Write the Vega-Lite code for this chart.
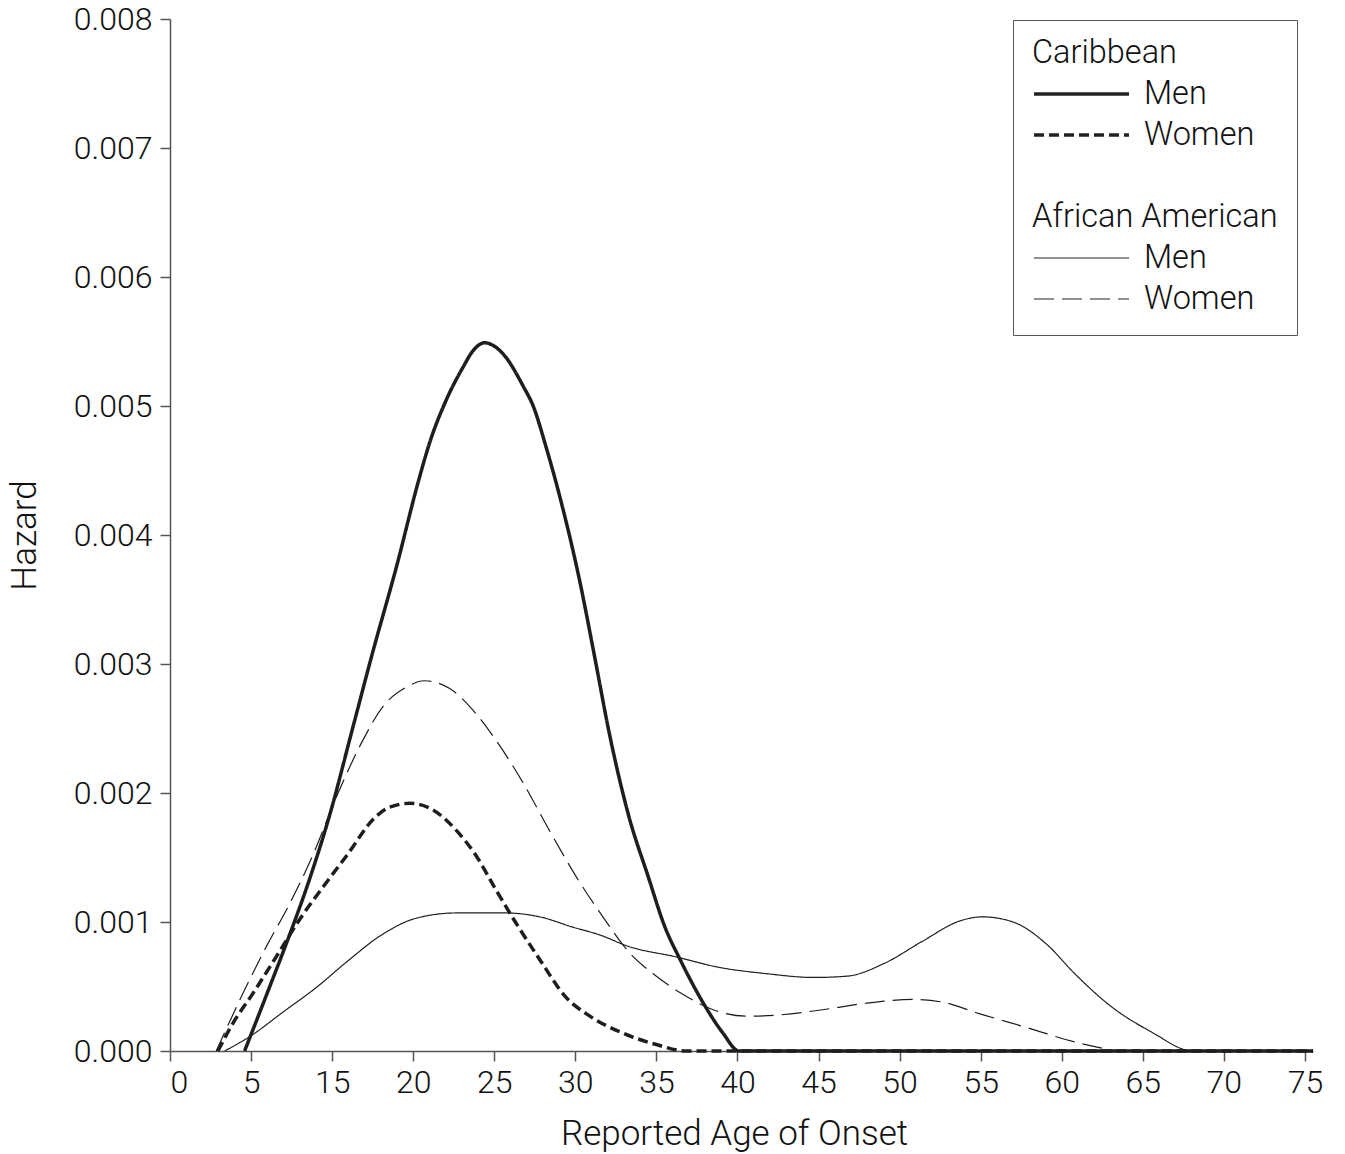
{
  "$schema": "https://vega.github.io/schema/vega-lite/v6.json",
  "width": 1143,
  "height": 1032,
  "autosize": {"type": "none"},
  "padding": {"left": 170, "top": 19, "right": 32, "bottom": 103},
  "background": "white",
  "config": {
    "view": {"stroke": null},
    "font": "Roboto",
    "axis": {
      "grid": false,
      "domainColor": "#555",
      "domainWidth": 1.5,
      "tickColor": "#555",
      "tickWidth": 1.5,
      "tickSize": 10,
      "labelFont": "Roboto",
      "labelFontSize": 32,
      "labelFontWeight": 300,
      "labelColor": "#111",
      "titleFont": "Roboto",
      "titleFontSize": 35,
      "titleFontWeight": 300,
      "titleColor": "#111"
    },
    "legend": {
      "strokeColor": "#555",
      "fillColor": "white",
      "padding": 19,
      "labelFont": "Roboto",
      "labelFontSize": 32.5,
      "labelFontWeight": 300,
      "labelColor": "#111",
      "labelOffset": 13,
      "labelLimit": 400,
      "symbolSize": 9025,
      "symbolType": "stroke",
      "symbolStrokeColor": "#222",
      "clipHeight": 28,
      "rowPadding": 8
    }
  },
  "data": {
    "values": [
      {"series": "Caribbean Men", "age": 4.6, "hazard": 0},
      {"series": "Caribbean Men", "age": 7.04, "hazard": 0.000457},
      {"series": "Caribbean Men", "age": 9.75, "hazard": 0.0009},
      {"series": "Caribbean Men", "age": 12.2, "hazard": 0.00133},
      {"series": "Caribbean Men", "age": 14.7, "hazard": 0.00183},
      {"series": "Caribbean Men", "age": 16.26, "hazard": 0.0025},
      {"series": "Caribbean Men", "age": 17.5, "hazard": 0.00309},
      {"series": "Caribbean Men", "age": 18.96, "hazard": 0.00375},
      {"series": "Caribbean Men", "age": 20.35, "hazard": 0.00443},
      {"series": "Caribbean Men", "age": 21.0, "hazard": 0.00471},
      {"series": "Caribbean Men", "age": 22.05, "hazard": 0.00505},
      {"series": "Caribbean Men", "age": 23.07, "hazard": 0.0053},
      {"series": "Caribbean Men", "age": 23.7, "hazard": 0.00543},
      {"series": "Caribbean Men", "age": 24.4, "hazard": 0.00549},
      {"series": "Caribbean Men", "age": 25.5, "hazard": 0.00541},
      {"series": "Caribbean Men", "age": 26.8, "hazard": 0.00515},
      {"series": "Caribbean Men", "age": 27.4, "hazard": 0.005},
      {"series": "Caribbean Men", "age": 28.2, "hazard": 0.00468},
      {"series": "Caribbean Men", "age": 29.2, "hazard": 0.00422},
      {"series": "Caribbean Men", "age": 30.26, "hazard": 0.00365},
      {"series": "Caribbean Men", "age": 31.2, "hazard": 0.00305},
      {"series": "Caribbean Men", "age": 32.1, "hazard": 0.00246},
      {"series": "Caribbean Men", "age": 33.3, "hazard": 0.00182},
      {"series": "Caribbean Men", "age": 34.5, "hazard": 0.00135},
      {"series": "Caribbean Men", "age": 35.5, "hazard": 0.00097},
      {"series": "Caribbean Men", "age": 36.5, "hazard": 0.0007},
      {"series": "Caribbean Men", "age": 37.9, "hazard": 0.00037},
      {"series": "Caribbean Men", "age": 39.1, "hazard": 0.00014},
      {"series": "Caribbean Men", "age": 40.1, "hazard": 0},
      {"series": "Caribbean Men", "age": 75.5, "hazard": 0},

      {"series": "Caribbean Women", "age": 2.95, "hazard": 0},
      {"series": "Caribbean Women", "age": 3.88, "hazard": 0.000215},
      {"series": "Caribbean Women", "age": 5.23, "hazard": 0.000447},
      {"series": "Caribbean Women", "age": 8.11, "hazard": 0.000731},
      {"series": "Caribbean Women", "age": 10.99, "hazard": 0.00102},
      {"series": "Caribbean Women", "age": 13.86, "hazard": 0.00127},
      {"series": "Caribbean Women", "age": 15.87, "hazard": 0.00151},
      {"series": "Caribbean Women", "age": 17.72, "hazard": 0.00182},
      {"series": "Caribbean Women", "age": 18.55, "hazard": 0.00189},
      {"series": "Caribbean Women", "age": 19.8, "hazard": 0.00192},
      {"series": "Caribbean Women", "age": 21.2, "hazard": 0.00187},
      {"series": "Caribbean Women", "age": 22.66, "hazard": 0.00171},
      {"series": "Caribbean Women", "age": 23.9, "hazard": 0.00151},
      {"series": "Caribbean Women", "age": 25.1, "hazard": 0.00125},
      {"series": "Caribbean Women", "age": 26.35, "hazard": 0.00099},
      {"series": "Caribbean Women", "age": 27.8, "hazard": 0.00071},
      {"series": "Caribbean Women", "age": 29.4, "hazard": 0.00042},
      {"series": "Caribbean Women", "age": 30.9, "hazard": 0.00027},
      {"series": "Caribbean Women", "age": 32.9, "hazard": 0.00014},
      {"series": "Caribbean Women", "age": 35.0, "hazard": 0.00005},
      {"series": "Caribbean Women", "age": 36.8, "hazard": 0},
      {"series": "Caribbean Women", "age": 75.5, "hazard": 0},

      {"series": "African American Men", "age": 3.37, "hazard": 0},
      {"series": "African American Men", "age": 4.9, "hazard": 0.00011},
      {"series": "African American Men", "age": 8.9, "hazard": 0.0003},
      {"series": "African American Men", "age": 13.0, "hazard": 0.00049},
      {"series": "African American Men", "age": 16.08, "hazard": 0.00071},
      {"series": "African American Men", "age": 17.93, "hazard": 0.00089},
      {"series": "African American Men", "age": 20.2, "hazard": 0.00103},
      {"series": "African American Men", "age": 22.65, "hazard": 0.00107},
      {"series": "African American Men", "age": 25.7, "hazard": 0.00107},
      {"series": "African American Men", "age": 27.8, "hazard": 0.00104},
      {"series": "African American Men", "age": 29.85, "hazard": 0.00096},
      {"series": "African American Men", "age": 31.5, "hazard": 0.0009},
      {"series": "African American Men", "age": 33.3, "hazard": 0.00081},
      {"series": "African American Men", "age": 36.2, "hazard": 0.00073},
      {"series": "African American Men", "age": 38.8, "hazard": 0.00065},
      {"series": "African American Men", "age": 41.75, "hazard": 0.0006},
      {"series": "African American Men", "age": 44.7, "hazard": 0.00057},
      {"series": "African American Men", "age": 46.75, "hazard": 0.00058},
      {"series": "African American Men", "age": 49.07, "hazard": 0.00068},
      {"series": "African American Men", "age": 51.4, "hazard": 0.00085},
      {"series": "African American Men", "age": 53.76, "hazard": 0.00101},
      {"series": "African American Men", "age": 55.1, "hazard": 0.00104},
      {"series": "African American Men", "age": 57.0, "hazard": 0.001},
      {"series": "African American Men", "age": 59.05, "hazard": 0.00083},
      {"series": "African American Men", "age": 60.8, "hazard": 0.0006},
      {"series": "African American Men", "age": 63.1, "hazard": 0.00034},
      {"series": "African American Men", "age": 65.5, "hazard": 0.00015},
      {"series": "African American Men", "age": 68.1, "hazard": 0},
      {"series": "African American Men", "age": 75.5, "hazard": 0},

      {"series": "African American Women", "age": 2.85, "hazard": 0},
      {"series": "African American Women", "age": 4.5, "hazard": 0.000447},
      {"series": "African American Women", "age": 6.88, "hazard": 0.000809},
      {"series": "African American Women", "age": 9.75, "hazard": 0.00114},
      {"series": "African American Women", "age": 12.63, "hazard": 0.00152},
      {"series": "African American Women", "age": 15.3, "hazard": 0.00198},
      {"series": "African American Women", "age": 16.9, "hazard": 0.00241},
      {"series": "African American Women", "age": 18.13, "hazard": 0.00267},
      {"series": "African American Women", "age": 19.57, "hazard": 0.00282},
      {"series": "African American Women", "age": 20.7, "hazard": 0.00287},
      {"series": "African American Women", "age": 22.25, "hazard": 0.00281},
      {"series": "African American Women", "age": 23.7, "hazard": 0.00264},
      {"series": "African American Women", "age": 25.1, "hazard": 0.00241},
      {"series": "African American Women", "age": 26.77, "hazard": 0.00208},
      {"series": "African American Women", "age": 28.4, "hazard": 0.00171},
      {"series": "African American Women", "age": 30.06, "hazard": 0.00135},
      {"series": "African American Women", "age": 31.7, "hazard": 0.00104},
      {"series": "African American Women", "age": 33.35, "hazard": 0.00076},
      {"series": "African American Women", "age": 35.0, "hazard": 0.00058},
      {"series": "African American Women", "age": 36.5, "hazard": 0.00045},
      {"series": "African American Women", "age": 38.5, "hazard": 0.00032},
      {"series": "African American Women", "age": 40.6, "hazard": 0.00027},
      {"series": "African American Women", "age": 42.6, "hazard": 0.00028},
      {"series": "African American Women", "age": 45.25, "hazard": 0.00032},
      {"series": "African American Women", "age": 47.9, "hazard": 0.00037},
      {"series": "African American Women", "age": 50.8, "hazard": 0.0004},
      {"series": "African American Women", "age": 52.6, "hazard": 0.00038},
      {"series": "African American Women", "age": 54.9, "hazard": 0.00029},
      {"series": "African American Women", "age": 57.9, "hazard": 0.00018},
      {"series": "African American Women", "age": 60.8, "hazard": 0.00007},
      {"series": "African American Women", "age": 62.6, "hazard": 0.00002},
      {"series": "African American Women", "age": 63.5, "hazard": 0},
      {"series": "African American Women", "age": 75.5, "hazard": 0}
    ]
  },
  "mark": {"type": "line", "interpolate": "monotone", "color": "#1e1e1e", "strokeCap": "butt"},
  "encoding": {
    "x": {
      "field": "age",
      "type": "quantitative",
      "scale": {"domain": [0, 5, 15, 75.5], "range": [0, 81.07, 162.14, 1143], "nice": false, "zero": false},
      "axis": {
        "title": "Reported Age of Onset",
        "values": [0, 5, 15, 20, 25, 30, 35, 40, 45, 50, 55, 60, 65, 70, 75],
        "format": "d",
        "labelPadding": 6,
        "titlePadding": 18,
        "titleX": 564
      }
    },
    "y": {
      "field": "hazard",
      "type": "quantitative",
      "scale": {"domain": [0, 0.008], "nice": false},
      "axis": {
        "title": "Hazard",
        "values": [0, 0.001, 0.002, 0.003, 0.004, 0.005, 0.006, 0.007, 0.008],
        "format": ".3f",
        "labelPadding": 8,
        "titlePadding": 31
      }
    },
    "strokeDash": {
      "field": "series",
      "type": "nominal",
      "scale": {
        "domain": ["Caribbean", "Caribbean Men", "Caribbean Women", " ", "African American", "African American Men", "African American Women"],
        "range": [[1, 0], [1, 0], [10, 5], [1, 0], [1, 0], [1, 0], [20, 8]]
      },
      "legend": {
        "title": null,
        "orient": "none",
        "legendX": 843,
        "legendY": 1,
        "values": ["Caribbean", "Caribbean Men", "Caribbean Women", " ", "African American", "African American Men", "African American Women"],
        "labelExpr": "replace(datum.label, regexp('^(Caribbean|African American) '), '')",
        "encode": {
          "labels": {
            "update": {
              "dx": {"signal": "(datum.value === 'Caribbean' || datum.value === 'African American') ? -((datum.offset || datum.size || 99) + 13) : 0"}
            }
          }
        }
      }
    },
    "strokeWidth": {
      "field": "series",
      "type": "nominal",
      "scale": {
        "type": "ordinal",
        "domain": ["Caribbean", "Caribbean Men", "Caribbean Women", " ", "African American", "African American Men", "African American Women"],
        "range": [0, 3.5, 3.5, 0, 0, 1.2, 1.2]
      },
      "legend": {
        "title": null,
        "orient": "none",
        "legendX": 843,
        "legendY": 1,
        "values": ["Caribbean", "Caribbean Men", "Caribbean Women", " ", "African American", "African American Men", "African American Women"],
        "labelExpr": "replace(datum.label, regexp('^(Caribbean|African American) '), '')",
        "encode": {
          "labels": {
            "update": {
              "dx": {"signal": "(datum.value === 'Caribbean' || datum.value === 'African American') ? -((datum.offset || datum.size || 99) + 13) : 0"}
            }
          }
        }
      }
    }
  }
}
